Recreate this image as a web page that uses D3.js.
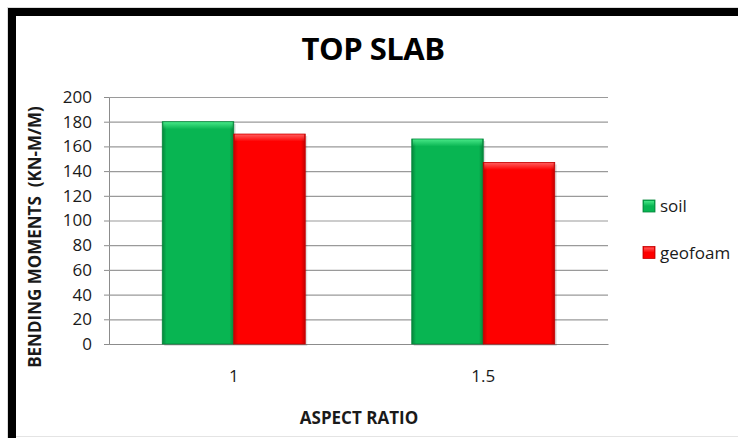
<!DOCTYPE html>
<html>
<head>
<meta charset="utf-8">
<script src="https://cdn.jsdelivr.net/npm/d3@7"></script>
<style>
  body { margin: 0; background: #fff; }
  svg { display: block; }
</style>
</head>
<body>
<svg width="738" height="438"></svg>
<script>
//data
var categories = ['1', '1.5'];
var seriesNames = ['soil', 'geofoam'];
var soilValues = [180, 166];
var geofoamValues = [170, 147];
var yTicks = [0, 20, 40, 60, 80, 100, 120, 140, 160, 180, 200];

//SVG Parameters
var svg = d3.select('svg');
var svgWidth = +svg.attr('width');
var svgHeight = +svg.attr('height');
var font = '"Open Sans", "Noto Sans", sans-serif';
var textColor = '#1a1a1a';

//plot area
var plot = {l: 109, t: 97, r: 608, b: 344};
var colors = {
    soil: {base: '#08b552', light: '#45e585', dark: '#05853b'},
    geofoam: {base: '#fe0000', light: '#ff5a5a', dark: '#c20000'}
};

//frame
svg.append('rect').attr('width', svgWidth).attr('height', svgHeight).attr('fill', '#fff');
svg.append('line').attr('x1', 7).attr('x2', svgWidth).attr('y1', 7.5).attr('y2', 7.5)
    .attr('stroke', '#dcdcdc');
svg.append('line').attr('x1', 7.5).attr('x2', 7.5).attr('y1', 7).attr('y2', svgHeight)
    .attr('stroke', '#dcdcdc');
svg.append('line').attr('x1', 16).attr('x2', svgWidth).attr('y1', 436.5).attr('y2', 436.5)
    .attr('stroke', '#e4e4e4');
svg.append('rect').attr('x', 8).attr('y', 8).attr('width', svgWidth - 8).attr('height', 8)
    .attr('fill', '#000');
svg.append('rect').attr('x', 8).attr('y', 8).attr('width', 8).attr('height', svgHeight - 8)
    .attr('fill', '#000');

//gradients for the bevelled bars
var defs = svg.append('defs');
seriesNames.forEach(function(name) {
    var c = colors[name];
    var side = defs.append('linearGradient').attr('id', 'side-' + name)
        .attr('x1', 0).attr('x2', 1).attr('y1', 0).attr('y2', 0);
    side.append('stop').attr('offset', '0%').attr('stop-color', c.dark);
    side.append('stop').attr('offset', '6%').attr('stop-color', c.base);
    side.append('stop').attr('offset', '94%').attr('stop-color', c.base);
    side.append('stop').attr('offset', '100%').attr('stop-color', c.dark);
    var top = defs.append('linearGradient').attr('id', 'top-' + name)
        .attr('x1', 0).attr('x2', 0).attr('y1', 0).attr('y2', 1);
    top.append('stop').attr('offset', '0%').attr('stop-color', c.light);
    top.append('stop').attr('offset', '100%').attr('stop-color', c.light).attr('stop-opacity', 0);
});

//scales
var xScale = d3.scaleBand().domain(categories).range([plot.l, plot.r]).paddingInner(0).paddingOuter(0);
var xInner = d3.scaleBand().domain(seriesNames).range([0, xScale.bandwidth()])
    .paddingInner(0).paddingOuter(0.745);
var yScale = d3.scaleLinear().domain([0, 200]).range([plot.b, plot.t]);

//grid + y axis
var yAxis = svg.append('g')
    .attr('transform', 'translate(' + [plot.l, 0] + ')')
    .call(d3.axisLeft(yScale).tickValues(yTicks).tickSize(5).tickSizeOuter(0).tickPadding(12));
yAxis.select('.domain').attr('stroke', '#8c8c8c');
yAxis.selectAll('.tick line').attr('stroke', '#8c8c8c');
yAxis.selectAll('.tick text')
    .attr('font-family', font).attr('font-size', 17).attr('fill', textColor);
yAxis.selectAll('.tick').append('line')
    .attr('x1', 0).attr('x2', plot.r - plot.l)
    .attr('stroke', '#9a9a9a').attr('stroke-width', 1.2);

//x axis
var xAxis = svg.append('g')
    .attr('transform', 'translate(' + [0, plot.b] + ')')
    .call(d3.axisBottom(xScale).tickSize(0).tickPadding(26));
xAxis.select('.domain').attr('stroke', '#8c8c8c').attr('stroke-width', 1.2);
xAxis.selectAll('.tick text')
    .attr('font-family', font).attr('font-size', 17).attr('fill', textColor);

//bars
var series = [soilValues, geofoamValues];
var groups = svg.selectAll('.group')
    .data(categories)
    .enter().append('g')
    .attr('class', 'group')
    .attr('transform', function(d) { return 'translate(' + [xScale(d), 0] + ')'; });

groups.each(function(cat, ci) {
    var g = d3.select(this);
    var rows = seriesNames.map(function(name, si) {
        return {name: name, value: series[si][ci]};
    });
    var bars = g.selectAll('.bar').data(rows).enter().append('g').attr('class', 'bar');
    //shadow
    bars.append('rect')
        .attr('x', function(d) { return xInner(d.name) + 2; })
        .attr('y', function(d) { return yScale(d.value) + 2; })
        .attr('width', xInner.bandwidth())
        .attr('height', function(d) { return plot.b - yScale(d.value); })
        .attr('fill', '#000').attr('opacity', 0.12);
    bars.append('rect')
        .attr('x', function(d) { return xInner(d.name); })
        .attr('y', function(d) { return yScale(d.value); })
        .attr('width', xInner.bandwidth())
        .attr('height', function(d) { return plot.b - yScale(d.value); })
        .attr('fill', function(d) { return 'url(#side-' + d.name + ')'; })
        .attr('stroke', function(d) { return colors[d.name].dark; })
        .attr('stroke-width', 0.8);
    bars.append('rect')
        .attr('x', function(d) { return xInner(d.name) + 1; })
        .attr('y', function(d) { return yScale(d.value) + 0.5; })
        .attr('width', xInner.bandwidth() - 2)
        .attr('height', 7)
        .attr('fill', function(d) { return 'url(#top-' + d.name + ')'; });
});

//title
svg.append('text')
    .attr('x', 373).attr('y', 60)
    .attr('text-anchor', 'middle')
    .attr('font-family', font).attr('font-weight', 'bold').attr('font-size', 31)
    .attr('letter-spacing', -0.5)
    .attr('fill', '#000')
    .text('TOP SLAB');

//axis titles
svg.append('text')
    .attr('transform', 'translate(' + [41, 237] + ')rotate(-90)')
    .attr('text-anchor', 'middle')
    .attr('font-family', font).attr('font-weight', 'bold').attr('font-size', 17)
    .attr('fill', textColor)
    .style('white-space', 'pre')
    .text('BENDING MOMENTS  (KN-M/M)');
svg.append('text')
    .attr('x', 359).attr('y', 424)
    .attr('text-anchor', 'middle')
    .attr('font-family', font).attr('font-weight', 'bold').attr('font-size', 17)
    .attr('fill', textColor)
    .text('ASPECT RATIO');

//legend
var legend = svg.selectAll('.legend')
    .data(seriesNames)
    .enter().append('g')
    .attr('class', 'legend')
    .attr('transform', function(d, i) { return 'translate(' + [643, 200 + i * 46.5] + ')'; });
legend.append('rect')
    .attr('width', 12).attr('height', 12)
    .attr('fill', function(d) { return 'url(#side-' + d + ')'; })
    .attr('stroke', function(d) { return colors[d].dark; }).attr('stroke-width', 0.8);
legend.append('rect')
    .attr('x', 1).attr('y', 1).attr('width', 10).attr('height', 5)
    .attr('fill', function(d) { return 'url(#top-' + d + ')'; });
legend.append('text')
    .attr('x', 17).attr('y', 12)
    .attr('font-family', font).attr('font-size', 17).attr('fill', textColor)
    .text(function(d) { return d; });
</script>
</body>
</html>
